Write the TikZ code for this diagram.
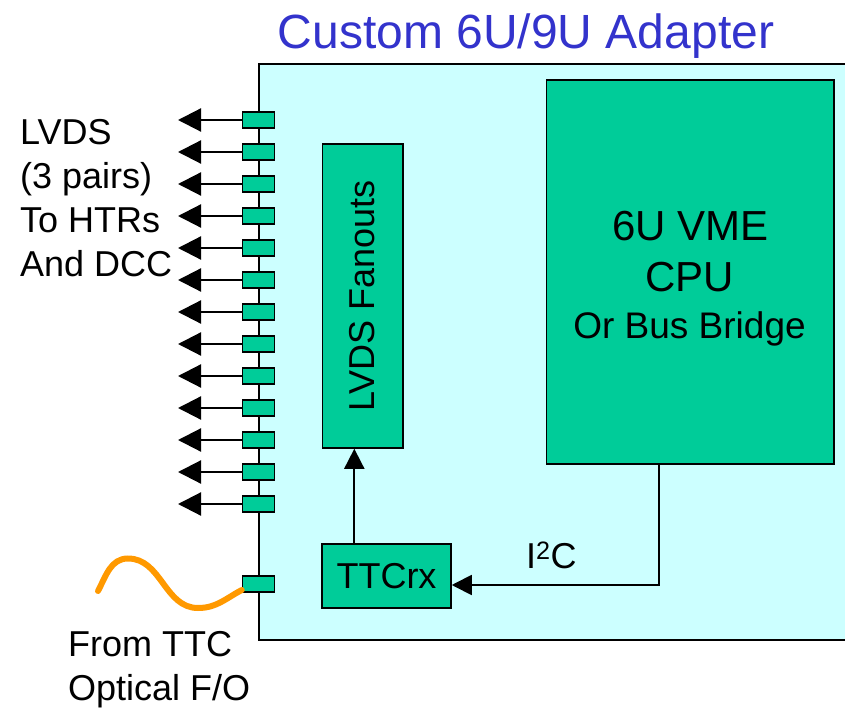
\documentclass[tikz,border=0pt]{standalone}
\usepackage{fontspec}
\setmainfont{Liberation Sans}
\usetikzlibrary{arrows.meta}
\definecolor{boardc}{HTML}{CCFFFF}
\definecolor{chipc}{HTML}{00CC99}
\definecolor{fibrec}{HTML}{FF9900}
\definecolor{titlec}{HTML}{3333CC}
\tikzset{
  board/.style={draw=black, fill=boardc, line width=1.5pt, inner sep=0pt},
  chip/.style={draw=black, fill=chipc, line width=1.5pt, inner sep=0pt},
  conn/.style={draw=black, fill=chipc, line width=1.5pt, inner sep=0pt, minimum width=32pt, minimum height=16pt},
  txt/.style={inner sep=0pt, font=\fontsize{36}{44}\selectfont},
  outarrow/.style={line width=2.2pt, -{Triangle[length=23pt,width=23pt]}},
  inarrow/.style={line width=1.8pt, -{Triangle[length=20pt,width=20pt]}},
  fibre/.style={draw=fibrec, line width=6pt, line cap=round},
}
\begin{document}
\begin{tikzpicture}[x=1pt,y=-1pt]
\useasboundingbox (0,0) rectangle (845,708);
% title
\node[txt, anchor=base, text=titlec, font=\fontsize{48}{56}\selectfont] (title) at (526,48.3) {Custom 6U/9U Adapter};
% board
\node[board, minimum width=600pt, minimum height=576pt] (board) at (559,352) {};
% CPU
\node[chip, minimum width=287.3pt, minimum height=384pt] (cpu) at (690.3,272) {};
\node[inner sep=0pt, anchor=base, font=\fontsize{42}{48}\selectfont] (cpu1) at (690.3,240.7) {6U VME};
\node[inner sep=0pt, anchor=base, font=\fontsize{42}{48}\selectfont] (cpu2) at (689.5,291.7) {CPU};
\node[inner sep=0pt, anchor=base, font=\fontsize{37}{44}\selectfont] (cpu3) at (689.5,338.3) {Or Bus Bridge};
% fanouts
\node[chip, txt, rotate=90, minimum width=304pt, minimum height=80.5pt] (fanout) at (362.5,296) {LVDS Fanouts};
% TTCrx
\node[chip, txt, minimum width=129pt, minimum height=64pt] (ttcrx) at (386.5,576) {TTCrx};
% connectors and outputs
\foreach \i in {0,...,12}{
  \node[conn] (c\i) at (258.5,{120+32*\i}) {};
  \coordinate (t\i) at (178,{120+32*\i});
  \draw[outarrow] (c\i.west) -- (t\i);
}
\node[conn] (opt) at (258.5,584) {};
% fibre
\draw[fibre] (98,591) to[out=62,in=180] (128,558.5) to[out=0,in=180] (198,608) to[out=0,in=208] ([yshift=-6pt]opt.west);
% internal arrows
\draw[inarrow] ([xshift=-32.2pt]ttcrx.north) -- ([xshift=-32.2pt]ttcrx.north |- fanout.west);
\draw[inarrow] ([xshift=-31.6pt]cpu.south) |- ([yshift=-9pt]ttcrx.east);
\node[txt, anchor=base west] (i2c) at (526,568.3) {I\textsuperscript{2}C};
% texts
\node[txt, anchor=base west, align=left] (lvds) at (20,277) {LVDS\\(3 pairs)\\To HTRs\\And DCC};
\node[txt, anchor=base west, align=left] (from) at (68,700) {From TTC\\Optical F/O};
\end{tikzpicture}
\end{document}
